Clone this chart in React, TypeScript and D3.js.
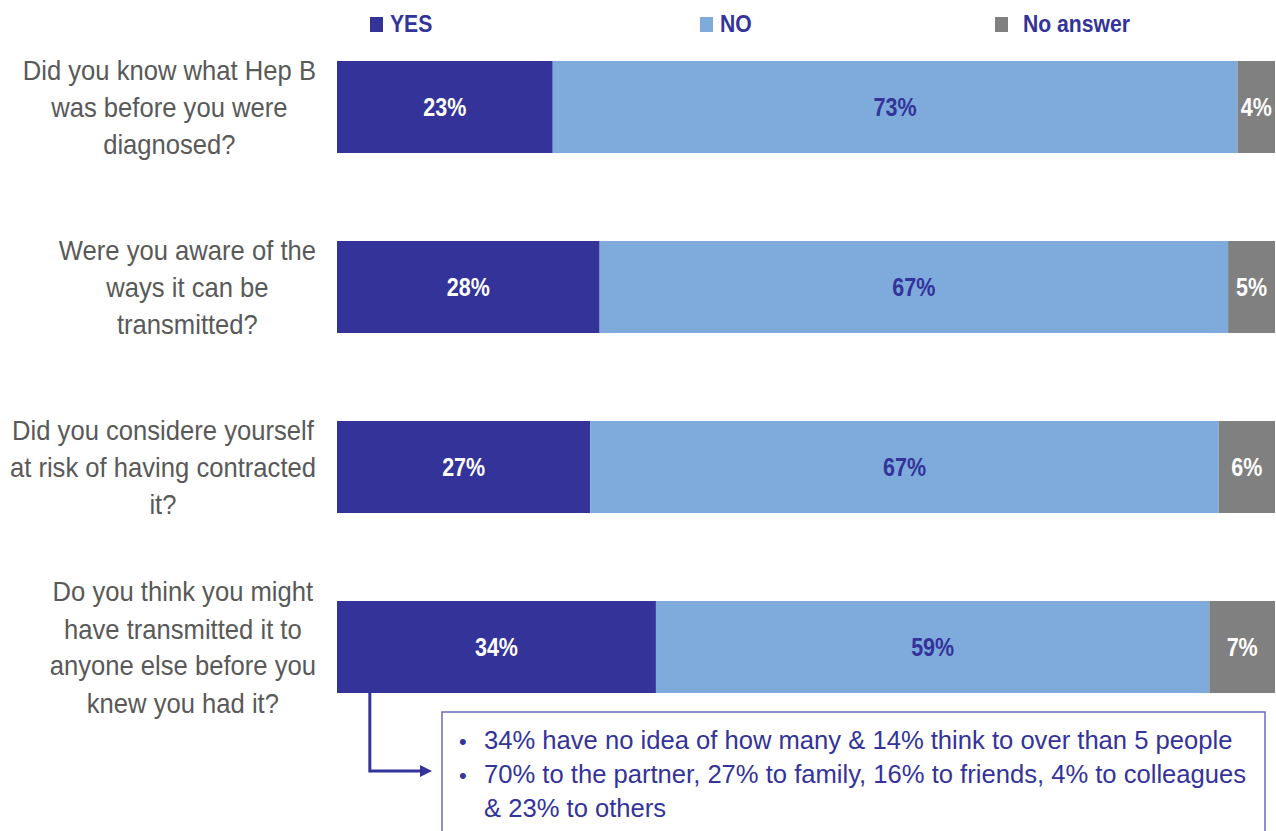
import React, { useLayoutEffect, useRef, useState } from "react";
import * as d3 from "d3";

const categories = [
  ["Did you know what Hep B", "was before you were", "diagnosed?"],
  ["Were you aware of the", "ways it can be", "transmitted?"],
  ["Did you considere yourself", "at risk of having contracted", "it?"],
  ["Do you think you might", "have transmitted it to", "anyone else before you", "knew you had it?"],
];
const yesValues = [23, 28, 27, 34];
const noValues = [73, 67, 67, 59];
const noAnswerValues = [4, 5, 6, 7];
const seriesNames = ["YES", "NO", "No answer"];
const noteLines = [
  ["•", "34% have no idea of how many & 14% think to over than 5 people"],
  ["•", "70% to the partner, 27% to family, 16% to friends, 4% to colleagues"],
  ["", "& 23% to others"],
];

const COLORS = ["#333399", "#7eaadc", "#808080"];
const LABEL_COLORS = ["#ffffff", "#333399", "#ffffff"];
const NAVY = "#333399";
const SANS = "'Liberation Sans', Arial, sans-serif";

export default function App() {
  const W = 1276, H = 831;
  const x = d3.scaleLinear().domain([0, 100]).range([337, 1275]);
  const keys = categories.map((_, i) => String(i));
  const y = d3.scaleBand().domain(keys).range([61, 693]).paddingInner(0.489).paddingOuter(0);

  const rows = categories.map((_, i) => ({ key: String(i), v: [yesValues[i], noValues[i], noAnswerValues[i]] }));
  const stack = d3.stack<any>().keys([0, 1, 2] as any).value((d: any, k: any) => d.v[k]);
  const series = stack(rows as any);

  const legendX = [370, 700, 995];
  const lineH = 37;
  const labelRight = 316;
  const sx = 0.915;

  const refs = useRef<(SVGGElement | null)[]>([]);
  const [offsets, setOffsets] = useState<number[]>(categories.map(() => 0));
  useLayoutEffect(() => {
    const o = refs.current.map((g) => {
      if (!g) return 0;
      const bb = g.getBBox();
      const right = (bb.x + bb.width) * sx;
      return labelRight - right;
    });
    setOffsets(o);
  }, []);

  const lastKey = keys[keys.length - 1];
  const arrowX = x(3.5);
  const barBottom = (y(lastKey) as number) + y.bandwidth();
  const boxX = 442, boxY = 712;

  return (
    <svg width={W} height={H} style={{ position: "absolute", left: 0, top: 0 }}>
      <rect width={W} height={H} fill="#fff" />
      {/* legend */}
      {seriesNames.map((s, i) => (
        <g key={s}>
          <rect x={legendX[i]} y={17} width={13} height={15} fill={COLORS[i]} />
          <text transform={`translate(${legendX[i] + (i === 2 ? 28 : 20)},32) scale(0.92,1)`} fill={NAVY} fontFamily={SANS} fontWeight="bold" fontSize={23}>{s}</text>
        </g>
      ))}
      {/* bars */}
      {series.map((ser: any, si: number) => (
        <g key={si}>
          {ser.map((d: any, i: number) => {
            const x0 = x(d[0]), x1 = x(d[1]);
            const yy = y(keys[i]) as number;
            const cx = (x0 + x1) / 2, cy = yy + y.bandwidth() / 2 + 9;
            return (
              <g key={i}>
                <rect x={x0} y={yy} width={x1 - x0} height={y.bandwidth()} fill={COLORS[si]} />
                <text transform={`translate(${cx},${cy}) scale(0.86,1)`} textAnchor="middle" fill={LABEL_COLORS[si]}
                  fontFamily={SANS} fontWeight="bold" fontSize={25}>{d.data.v[si]}%</text>
              </g>
            );
          })}
        </g>
      ))}
      {/* category labels */}
      {categories.map((lines, i) => {
        const cy = (y(keys[i]) as number) + y.bandwidth() / 2;
        const start = cy - ((lines.length - 1) * lineH) / 2;
        return (
          <g key={i} transform={`translate(${offsets[i]},0) scale(${sx},1)`}>
            <g ref={(el) => { refs.current[i] = el; }}>
              <text textAnchor="middle" fill="#595959" fontFamily={SANS} fontSize={28}>
                {lines.map((l, j) => (
                  <tspan key={j} x={0} y={start + j * lineH + 10}>{l}</tspan>
                ))}
              </text>
            </g>
          </g>
        );
      })}
      {/* arrow */}
      <path d={`M${arrowX},${barBottom} V771 H422`} fill="none" stroke={NAVY} strokeWidth={3} />
      <path d={`M420,765 L432,771 L420,777 Z`} fill={NAVY} />
      {/* note box */}
      <rect x={boxX} y={boxY} width={823} height={140} fill="#fff" stroke="#6b6bbd" strokeWidth={1.5} />
      {noteLines.map((l, i) => (
        <g key={i}>
          {l[0] && <text x={459} y={749 + i * 34} fill={NAVY} fontFamily={SANS} fontSize={22}>{l[0]}</text>}
          <text x={484} y={749 + i * 34} fill={NAVY} fontFamily={SANS} fontSize={25.6}>{l[1]}</text>
        </g>
      ))}
    </svg>
  );
}
